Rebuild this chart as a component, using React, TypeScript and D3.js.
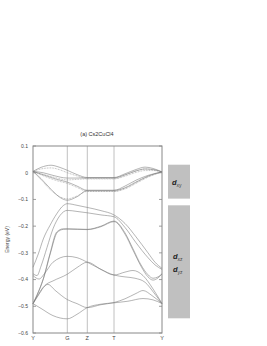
import React from 'react'
import * as d3 from 'd3'

// k-path positions of the high symmetry points
const kPoints = [0, 34.3, 54.3, 81, 129]
const kLabels = ['Y', 'G', 'Z', 'T', 'Y']
const energyTicks = [0.1, 0, -0.1, -0.2, -0.3, -0.4, -0.5, -0.6]

// d_xy bands (solid)
const u1 = [[0, 0.005], [8, 0.02], [18, 0.028], [26, 0.021], [34.3, 0.009], [44, -0.007], [54.3, -0.018], [81, -0.018], [92, -0.004], [103, 0.012], [112, 0.021], [120, 0.016], [129, 0.003]]
const u2 = [[0, 0.005], [10, 0.0], [20, -0.01], [34.3, -0.02], [44, -0.02], [54.3, -0.019], [81, -0.019], [92, -0.008], [103, 0.007], [112, 0.014], [120, 0.012], [129, 0.003]]
const u3 = [[0, 0.005], [12, -0.01], [24, -0.025], [34.3, -0.035], [44, -0.05], [54.3, -0.066], [81, -0.066], [92, -0.05], [103, -0.028], [115, -0.01], [129, 0.003]]
const u4 = [[0, 0.005], [8, -0.022], [18, -0.062], [28, -0.095], [34.3, -0.103], [44, -0.09], [54.3, -0.066], [81, -0.066], [92, -0.057], [103, -0.036], [115, -0.013], [129, 0.003]]
// d_xy bands (dotted)
const u1d = [[0, 0.005], [8, 0.014], [18, 0.018], [26, 0.012], [34.3, 0.0], [44, -0.012], [54.3, -0.022], [81, -0.022], [92, -0.009], [103, 0.006], [112, 0.014], [120, 0.011], [129, 0.003]]
const u2d = [[0, 0.005], [10, -0.006], [20, -0.016], [34.3, -0.027], [44, -0.025], [54.3, -0.023], [81, -0.023], [92, -0.013], [103, 0.001], [112, 0.008], [120, 0.008], [129, 0.003]]
const u3d = [[0, 0.005], [12, -0.014], [24, -0.03], [34.3, -0.04], [44, -0.055], [54.3, -0.07], [81, -0.07], [92, -0.056], [103, -0.034], [115, -0.014], [129, 0.003]]
const u4d = [[0, 0.005], [8, -0.026], [18, -0.066], [28, -0.092], [34.3, -0.098], [44, -0.087], [54.3, -0.07], [81, -0.07], [92, -0.061], [103, -0.04], [115, -0.017], [129, 0.003]]

// d_xz / d_yz bands
const l1 = [[0, -0.354], [5.3, -0.304], [10.3, -0.248], [17, -0.197], [23.7, -0.154], [30.3, -0.123], [34.3, -0.116], [44, -0.122], [54.3, -0.13], [68, -0.142], [81, -0.158], [92, -0.19], [103, -0.24], [115, -0.3], [122, -0.335], [129, -0.358]]
const l2 = [[0, -0.378], [4, -0.385], [8, -0.35], [14, -0.28], [20, -0.21], [27, -0.16], [34.3, -0.141], [44, -0.145], [54.3, -0.15], [68, -0.158], [81, -0.165], [92, -0.205], [103, -0.262], [115, -0.318], [122, -0.345], [129, -0.362]]
const l3 = [[0, -0.49], [3.7, -0.46], [10.3, -0.397], [17, -0.303], [23.7, -0.222], [30.3, -0.21], [34.3, -0.21], [54.3, -0.212], [68, -0.2], [81, -0.181], [92, -0.225], [100, -0.285], [108, -0.345], [115, -0.382], [120, -0.395], [125, -0.39], [129, -0.378]]
const l4 = [[0, -0.49], [4.5, -0.455], [11, -0.39], [17.5, -0.3], [24.2, -0.224], [30.3, -0.212], [34.3, -0.211], [54.3, -0.213], [68, -0.202], [81, -0.183], [92, -0.23], [100, -0.29], [108, -0.35], [115, -0.39], [120, -0.402], [125, -0.394], [129, -0.379]]
const l5 = [[0, -0.385], [6, -0.398], [12, -0.375], [20, -0.335], [34.3, -0.313], [44, -0.318], [54.3, -0.335], [68, -0.362], [81, -0.383], [92, -0.372], [100, -0.366], [110, -0.385], [120, -0.435], [129, -0.49]]
const l6 = [[0, -0.49], [6, -0.455], [12, -0.422], [20, -0.405], [34.3, -0.38], [44, -0.355], [54.3, -0.335], [68, -0.362], [81, -0.383], [92, -0.39], [102, -0.395], [112, -0.41], [121, -0.45], [129, -0.49]]
const l7 = [[0, -0.49], [5, -0.458], [10, -0.43], [15, -0.418], [22, -0.44], [34.3, -0.475], [44, -0.49], [54.3, -0.505], [68, -0.494], [81, -0.486], [92, -0.472], [103, -0.452], [110, -0.441], [119, -0.46], [129, -0.49]]
const l8 = [[0, -0.49], [8, -0.508], [20, -0.535], [34.3, -0.547], [44, -0.53], [54.3, -0.505], [68, -0.492], [81, -0.487], [95, -0.481], [110, -0.471], [120, -0.476], [129, -0.49]]

const solidBands = [u1, u2, u3, u4, l1, l2, l3, l4, l5, l6, l7, l8]
const dottedBands = [u1d, u2d, u3d, u4d]

// orbital boxes: [top energy, bottom energy]
const boxXY = [0.03, -0.097]
const boxXZ = [-0.122, -0.545]

export default function App() {
  const W = 267, H = 346
  const x = d3.scaleLinear().domain([0, 129]).range([33, 162])
  const y = d3.scaleLinear().domain([-0.6, 0.1]).range([333, 146])
  const line = d3.line<number[]>()
    .x(d => x(d[0]))
    .y(d => y(d[1]))
    .curve(d3.curveMonotoneX)
  const font = 'Liberation Sans, Arial, sans-serif'
  const fmt = (v: number) => (v === 0 ? '0' : d3.format('.1f')(v))

  return (
    <svg width={W} height={H} style={{ position: 'absolute', left: 0, top: 0, background: '#fff' }}>
      {/* symmetry lines */}
      {kPoints.slice(1, -1).map((k, i) => (
        <line key={'v' + i} x1={x(k)} x2={x(k)} y1={y(0.1)} y2={y(-0.6)} stroke="#b0b0b0" strokeWidth={0.8} />
      ))}
      {/* bands */}
      {dottedBands.map((b, i) => (
        <path key={'d' + i} d={line(b) || ''} fill="none" stroke="#888" strokeWidth={0.6} strokeDasharray="0.8,0.8" />
      ))}
      {solidBands.map((b, i) => (
        <path key={'s' + i} d={line(b) || ''} fill="none" stroke="#777" strokeWidth={0.55} />
      ))}
      {/* frame */}
      <rect x={x(0)} y={y(0.1)} width={x(129) - x(0)} height={y(-0.6) - y(0.1)} fill="none" stroke="#888" strokeWidth={1} />
      {energyTicks.map((t, i) => (
        <g key={'t' + i}>
          <line x1={x(0)} x2={x(0) + 3} y1={y(t)} y2={y(t)} stroke="#888" strokeWidth={0.8} />
          <line x1={x(129)} x2={x(129) - 3} y1={y(t)} y2={y(t)} stroke="#888" strokeWidth={0.8} />
          <text x={28} y={y(t) + 1.8} textAnchor="end" fontSize={5} fontFamily={font} fill="#444">{fmt(t)}</text>
        </g>
      ))}
      {kPoints.map((k, i) => (
        <text key={'k' + i} x={x(k)} y={340} textAnchor="middle" fontSize={5.5} fontFamily={font} fill="#444">{kLabels[i]}</text>
      ))}
      <text x={97} y={136} textAnchor="middle" fontSize={5.5} fontFamily={font} fill="#333">(a) Cs2CuCl4</text>
      <text transform={`translate(9,${y(-0.25)}) rotate(-90)`} textAnchor="middle" fontSize={5} fontFamily={font} fill="#444">Energy (eV)</text>
      {/* orbital boxes */}
      <rect x={168} y={y(boxXY[0])} width={22} height={y(boxXY[1]) - y(boxXY[0])} fill="#c0c0c0" />
      <rect x={168} y={y(boxXZ[0])} width={22} height={y(boxXZ[1]) - y(boxXZ[0])} fill="#c0c0c0" />
      <text x={172} y={185} fontFamily={font} fill="#222">
        <tspan fontSize={7.5} fontWeight="bold" fontStyle="italic">d</tspan>
        <tspan fontSize={5} dy={1.5} fill="#444">xy</tspan>
      </text>
      <text x={173} y={259} fontFamily={font} fill="#222">
        <tspan fontSize={7.5} fontWeight="bold" fontStyle="italic">d</tspan>
        <tspan fontSize={5} dy={1.5} fill="#444">xz</tspan>
      </text>
      <text x={173} y={272} fontFamily={font} fill="#222">
        <tspan fontSize={7.5} fontWeight="bold" fontStyle="italic">d</tspan>
        <tspan fontSize={5} dy={1.5} fill="#444">yz</tspan>
      </text>
    </svg>
  )
}
